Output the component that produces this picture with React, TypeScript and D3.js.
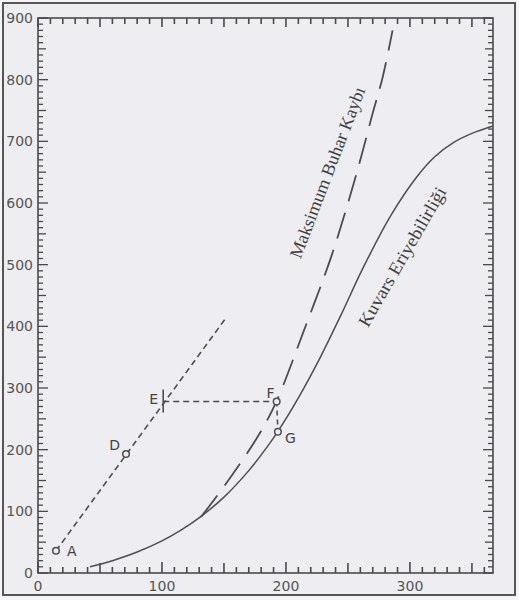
import React from "react";
import * as d3 from "d3";

// ---- data ----
const xTickLabels = [0, 100, 200, 300];
const yTickLabels = [0, 100, 200, 300, 400, 500, 600, 700, 800, 900];

// Kuvars Eriyebilirliği (solid curve)
const solidX = [42, 60, 80, 100, 115, 131, 150, 170, 185, 193, 210, 228, 245, 262, 285, 305, 320, 335, 350, 367];
const solidY = [10, 20, 34, 52, 69, 91, 123, 166, 205, 228, 284, 351, 421, 494, 581, 641, 675, 698, 713, 725];

// Maksimum Buhar Kaybı (long dashed curve)
const dashX = [131.5, 152, 179, 192.7, 213.7, 235.5, 249, 260, 270, 278, 286];
const dashY = [91, 146, 227, 280, 389, 507, 593, 670, 746, 804, 880];

// A-D-E construction line
const constrX = [14.5, 151];
const constrY = [36, 412];

// labelled points
const pointNames = ["A", "D", "E", "F", "G"];
const pointX = [14.5, 71, 101, 192.5, 193.5];
const pointY = [36, 193, 278, 278, 229];

const W = 519;
const H = 600;

export default function App() {
  const x = d3.scaleLinear().domain([0, 367]).range([38, 493]);
  const y = d3.scaleLinear().domain([0, 900]).range([573, 18]);

  const line = d3
    .line<[number, number]>()
    .x((d) => x(d[0]))
    .y((d) => y(d[1]))
    .curve(d3.curveCatmullRom.alpha(0.5));
  const straight = d3
    .line<[number, number]>()
    .x((d) => x(d[0]))
    .y((d) => y(d[1]));

  const solidPts = solidX.map((v, i) => [v, solidY[i]] as [number, number]);
  const dashPts = dashX.map((v, i) => [v, dashY[i]] as [number, number]);
  const constrPts = constrX.map((v, i) => [v, constrY[i]] as [number, number]);

  const xMinor = d3.range(0, 361, 10);
  const yMinor = d3.range(0, 901, 10);

  const axisColor = "#4a4a4a";
  const lineColor = "#4e4e4e";

  const pt = (name: string) => {
    const i = pointNames.indexOf(name);
    return { px: x(pointX[i]), py: y(pointY[i]) };
  };
  const A = pt("A"), D = pt("D"), E = pt("E"), F = pt("F"), G = pt("G");

  const xTickLen = (v: number) => (v % 100 === 0 ? 11 : v % 50 === 0 ? 10 : 6);
  const yTickLen = (v: number) => (v % 100 === 0 ? 10 : v % 50 === 0 ? 8 : 5);

  return (
    <svg
      width={W}
      height={H}
      style={{ position: "absolute", left: 0, top: 0, background: "#f4f4f6" }}
    >
      <rect x={3} y={3} width={512} height={592} fill="#ededf2" stroke="#555" strokeWidth={2} />

      {/* axes frame */}
      <rect x={x(0)} y={y(900)} width={x(367) - x(0)} height={y(0) - y(900)} fill="none" stroke={axisColor} strokeWidth={1.6} />

      {/* bottom ticks */}
      {xMinor.map((v) => (
        <line key={"b" + v} x1={x(v)} x2={x(v)} y1={y(0)} y2={y(0) - xTickLen(v)} stroke={axisColor} strokeWidth={1.6} />
      ))}
      {/* top ticks */}
      {xMinor.map((v) => (
        <line key={"t" + v} x1={x(v)} x2={x(v)} y1={y(900)} y2={y(900) + (v % 50 === 0 ? 9 : 6)} stroke={axisColor} strokeWidth={1.6} />
      ))}
      {/* left ticks */}
      {yMinor.map((v) => (
        <line key={"l" + v} x1={x(0)} x2={x(0) + yTickLen(v)} y1={y(v)} y2={y(v)} stroke={axisColor} strokeWidth={1.3} />
      ))}
      {/* right ticks */}
      {yMinor.map((v) => (
        <line key={"r" + v} x1={x(367)} x2={x(367) - yTickLen(v)} y1={y(v)} y2={y(v)} stroke={axisColor} strokeWidth={1.3} />
      ))}

      {/* tick labels */}
      {yTickLabels.map((v) => (
        <text key={"yl" + v} x={33} y={y(v)} dy="0.36em" textAnchor="end" fontFamily="DejaVu Sans" fontSize={14} fill="#555">
          {v}
        </text>
      ))}
      {xTickLabels.map((v) => (
        <text key={"xl" + v} x={x(v)} y={591} textAnchor="middle" fontFamily="DejaVu Sans" fontSize={14} fill="#555">
          {v}
        </text>
      ))}

      {/* curves */}
      <path d={line(solidPts) || ""} fill="none" stroke={lineColor} strokeWidth={1.5} />
      <path d={line(dashPts) || ""} fill="none" stroke={lineColor} strokeWidth={1.8} strokeDasharray="27 12" />

      {/* construction lines */}
      <path d={straight(constrPts) || ""} fill="none" stroke={lineColor} strokeWidth={1.6} strokeDasharray="6 4" />
      <line x1={E.px} x2={F.px} y1={E.py} y2={F.py} stroke={lineColor} strokeWidth={1.6} strokeDasharray="6 4" />
      <line x1={F.px} x2={G.px} y1={F.py} y2={G.py} stroke={lineColor} strokeWidth={1.6} strokeDasharray="5 4" />
      <line x1={E.px} x2={E.px} y1={E.py - 12} y2={E.py + 11} stroke={lineColor} strokeWidth={1.6} />

      {/* point markers */}
      {[A, D, F, G].map((p, i) => (
        <circle key={"c" + i} cx={p.px} cy={p.py} r={3.3} fill="#ededf2" stroke={lineColor} strokeWidth={1.5} />
      ))}

      {/* point letters */}
      <g fontFamily="DejaVu Sans" fontSize={14} fill="#444">
        <text x={A.px + 11} y={A.py + 5}>A</text>
        <text x={D.px - 6} y={D.py - 4} textAnchor="end">D</text>
        <text x={E.px - 5} y={E.py + 2} textAnchor="end">E</text>
        <text x={F.px - 2} y={F.py - 4} textAnchor="end">F</text>
        <text x={G.px + 7} y={G.py + 11}>G</text>
      </g>

      {/* curve labels */}
      <text
        transform={`translate(${x(238)},${y(646)}) rotate(-69)`}
        textAnchor="middle"
        fontFamily="Liberation Serif"
        fontSize={18}
        fill="#404040"
        textLength={182}
        lengthAdjust="spacingAndGlyphs"
      >
        Maksimum Buhar Kaybı
      </text>
      <text
        transform={`translate(${x(298)},${y(508)}) rotate(-60)`}
        textAnchor="middle"
        fontFamily="Liberation Serif"
        fontSize={18}
        fill="#404040"
        textLength={158}
        lengthAdjust="spacingAndGlyphs"
      >
        Kuvars Eriyebilirliği
      </text>
    </svg>
  );
}
